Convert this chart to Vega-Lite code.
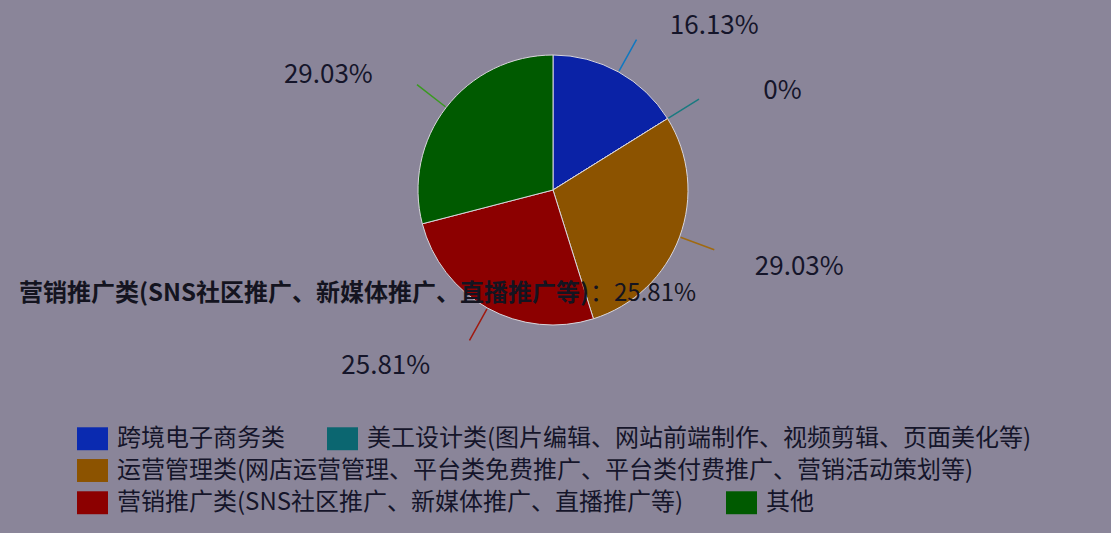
{
  "$schema": "https://vega.github.io/schema/vega-lite/v6.json",
  "width": 1106,
  "height": 380,
  "autosize": "none",
  "padding": {"left": 0, "top": 0, "right": 5, "bottom": 153},
  "background": "#8a8599",
  "config": {"view": {"stroke": null}, "font": "Noto Sans CJK SC"},
  "datasets": {
    "survey": [
      {"no": 1, "category": "跨境电子商务类", "value": 16.13, "label": "16.13%"},
      {"no": 2, "category": "美工设计类(图片编辑、网站前端制作、视频剪辑、页面美化等)", "value": 0, "label": "0%"},
      {"no": 3, "category": "运营管理类(网店运营管理、平台类免费推广、平台类付费推广、营销活动策划等)", "value": 29.03, "label": "29.03%"},
      {"no": 4, "category": "营销推广类(SNS社区推广、新媒体推广、直播推广等)", "value": 25.81, "label": "25.81%"},
      {"no": 5, "category": "其他", "value": 29.03, "label": "29.03%"}
    ],
    "tip": [
      {"title": "营销推广类(SNS社区推广、新媒体推广、直播推广等)", "value": "：25.81%"}
    ]
  },
  "data": {"name": "survey"},
  "resolve": {"scale": {"color": "independent"}, "legend": {"color": "independent"}},
  "layer": [
    {
      "mark": {"type": "arc", "radius": 135, "stroke": "#d9d6dc", "strokeWidth": 1},
      "encoding": {
        "theta": {"field": "value", "type": "quantitative", "stack": true},
        "order": {"field": "no", "type": "quantitative"},
        "color": {
          "field": "category", "type": "nominal",
          "scale": {
            "domain": ["跨境电子商务类", "美工设计类(图片编辑、网站前端制作、视频剪辑、页面美化等)", "运营管理类(网店运营管理、平台类免费推广、平台类付费推广、营销活动策划等)", "营销推广类(SNS社区推广、新媒体推广、直播推广等)", "其他"],
            "range": ["#0a22a6", "#0b6670", "#8c5300", "#8c0000", "#005a00"]
          },
          "legend": null
        }
      }
    },
    {
      "mark": {"type": "arc", "radius": 172, "radius2": 136, "padAngle": 3, "filled": false, "strokeWidth": 1.5},
      "encoding": {
        "theta": {"field": "value", "type": "quantitative", "stack": true},
        "order": {"field": "no", "type": "quantitative"},
        "color": {
          "field": "category", "type": "nominal",
          "scale": {
            "domain": ["跨境电子商务类", "美工设计类(图片编辑、网站前端制作、视频剪辑、页面美化等)", "运营管理类(网店运营管理、平台类免费推广、平台类付费推广、营销活动策划等)", "营销推广类(SNS社区推广、新媒体推广、直播推广等)", "其他"],
            "range": ["#1078c0", "#1a7a80", "#a06a10", "#a01a10", "#3a9a20"]
          },
          "legend": null
        }
      }
    },
    {
      "mark": {
        "type": "text", "radius": 188, "fontSize": 26, "color": "#15152a",
        "dx": {"expr": "(datum.value_start + datum.value_end) / 2 < 50 ? 70 : -76"},
        "dy": {"expr": "abs((datum.value_start + datum.value_end) / 2 - 50) < 25 ? 12 : 0"}
      },
      "encoding": {
        "theta": {"field": "value", "type": "quantitative", "stack": true},
        "order": {"field": "no", "type": "quantitative"},
        "text": {"field": "label", "type": "nominal"}
      }
    },
    {
      "data": {"name": "tip"},
      "mark": {"type": "text", "align": "right", "baseline": "middle", "fontWeight": "bold", "fontSize": 24, "color": "#141420", "dx": 36, "dy": 104},
      "encoding": {"text": {"field": "title", "type": "nominal"}}
    },
    {
      "data": {"name": "tip"},
      "mark": {"type": "text", "align": "left", "baseline": "middle", "fontSize": 24, "color": "#141420", "dx": 37, "dy": 104},
      "encoding": {"text": {"field": "value", "type": "nominal"}}
    },
    {
      "transform": [{"filter": {"field": "category", "oneOf": ["跨境电子商务类", "美工设计类(图片编辑、网站前端制作、视频剪辑、页面美化等)"]}}],
      "mark": {"type": "arc", "radius": 0},
      "encoding": {
        "color": {
          "field": "category", "type": "nominal",
          "scale": {"domain": ["跨境电子商务类", "美工设计类(图片编辑、网站前端制作、视频剪辑、页面美化等)"], "range": ["#0a2ab0", "#0b6670"]},
          "legend": {"title": null, "orient": "none", "legendX": 77, "legendY": 423, "direction": "horizontal", "symbolType": "M-1,-0.74H1V0.74H-1Z", "symbolSize": 961, "symbolStrokeWidth": 0, "labelFontSize": 24, "labelColor": "#15152a", "labelLimit": 2000, "labelOffset": 9, "columnPadding": 42}
        }
      }
    },
    {
      "transform": [{"filter": {"field": "category", "oneOf": ["运营管理类(网店运营管理、平台类免费推广、平台类付费推广、营销活动策划等)"]}}],
      "mark": {"type": "arc", "radius": 0},
      "encoding": {
        "color": {
          "field": "category", "type": "nominal",
          "scale": {"domain": ["运营管理类(网店运营管理、平台类免费推广、平台类付费推广、营销活动策划等)"], "range": ["#8c5300"]},
          "legend": {"title": null, "orient": "none", "legendX": 77, "legendY": 455, "direction": "horizontal", "symbolType": "M-1,-0.74H1V0.74H-1Z", "symbolSize": 961, "symbolStrokeWidth": 0, "labelFontSize": 24, "labelColor": "#15152a", "labelLimit": 2000, "labelOffset": 9, "columnPadding": 42}
        }
      }
    },
    {
      "transform": [{"filter": {"field": "category", "oneOf": ["营销推广类(SNS社区推广、新媒体推广、直播推广等)", "其他"]}}],
      "mark": {"type": "arc", "radius": 0},
      "encoding": {
        "color": {
          "field": "category", "type": "nominal",
          "scale": {"domain": ["营销推广类(SNS社区推广、新媒体推广、直播推广等)", "其他"], "range": ["#8c0000", "#005a00"]},
          "legend": {"title": null, "orient": "none", "legendX": 77, "legendY": 487, "direction": "horizontal", "symbolType": "M-1,-0.74H1V0.74H-1Z", "symbolSize": 961, "symbolStrokeWidth": 0, "labelFontSize": 24, "labelColor": "#15152a", "labelLimit": 2000, "labelOffset": 9, "columnPadding": 42}
        }
      }
    }
  ]
}
